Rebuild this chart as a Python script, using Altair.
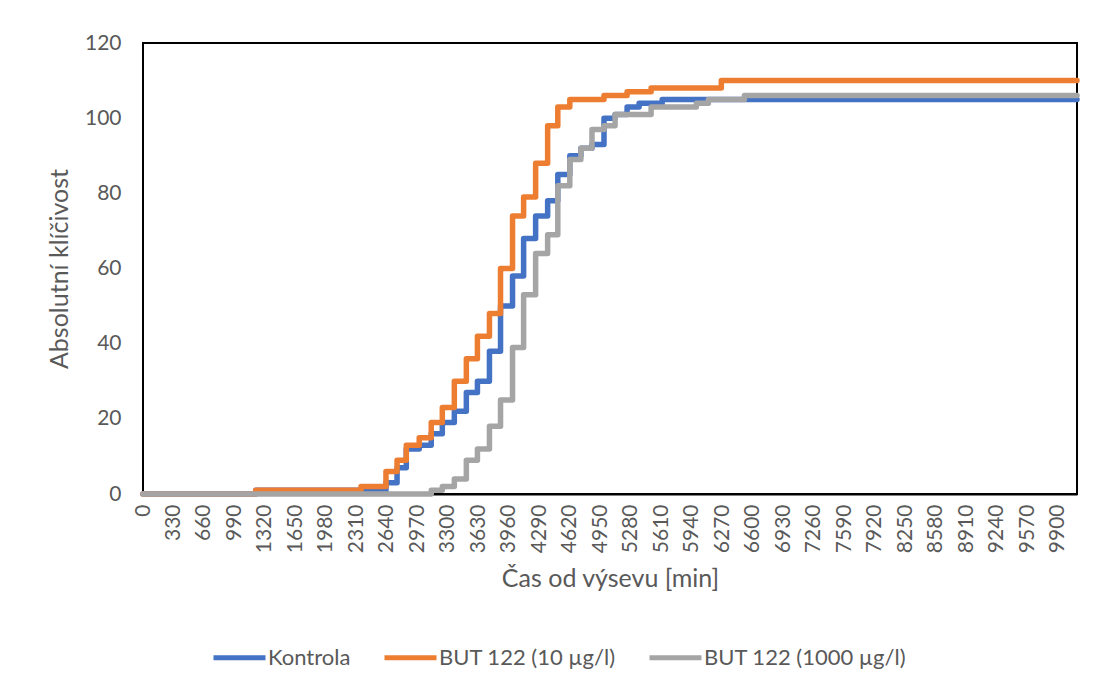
import altair as alt
import pandas as pd

# Step change points (minutes after sowing) and absolute germination counts
kontrola_t = [0, 1220, 2630, 2750, 2850, 2990, 3120, 3240, 3370, 3500, 3620, 3750, 3870,
              4000, 4120, 4250, 4380, 4490, 4620, 4740, 4860, 4990, 5110, 5240, 5370, 5620, 10110]
kontrola_v = [0, 1, 3, 7, 12, 13, 16, 19, 22, 27, 30, 38, 50,
              58, 68, 74, 78, 85, 90, 92, 93, 100, 101, 103, 104, 105, 105]

but10_t = [0, 1220, 2360, 2630, 2750, 2850, 2990, 3120, 3240, 3370, 3500, 3620, 3750,
           3870, 4000, 4120, 4250, 4380, 4490, 4620, 4990, 5240, 5500, 6260, 10110]
but10_v = [0, 1, 2, 6, 9, 13, 15, 19, 23, 30, 36, 42, 48,
           60, 74, 79, 88, 98, 103, 105, 106, 107, 108, 110, 110]

but1000_t = [0, 3120, 3240, 3370, 3500, 3620, 3750, 3870, 4000, 4120, 4250, 4380,
             4490, 4620, 4740, 4860, 4990, 5110, 5500, 5990, 6120, 6510, 10110]
but1000_v = [0, 1, 2, 4, 9, 12, 18, 25, 39, 53, 64, 69,
             82, 89, 92, 97, 98, 101, 103, 104, 105, 106, 106]

series_names = ["Kontrola", "BUT 122 (10 µg/l)", "BUT 122 (1000 µg/l)"]
series_colors = ["#4472C4", "#ED7D31", "#A5A5A5"]
x_ticks = list(range(0, 9901, 330))
y_ticks = [0, 20, 40, 60, 80, 100, 120]

rows = []
for name, ts, vs in zip(series_names, [kontrola_t, but10_t, but1000_t],
                        [kontrola_v, but10_v, but1000_v]):
    for t, v in zip(ts, vs):
        rows.append({"serie": name, "cas": t, "klicivost": v})
df = pd.DataFrame(rows)

FONT = "Lato"
GREY = "#595959"

chart = alt.Chart(df).mark_line(
    interpolate="step-after", strokeWidth=5.5, strokeJoin="round", strokeCap="round"
).encode(
    x=alt.X("cas:Q",
            scale=alt.Scale(domain=[0, 10110], nice=False, zero=False),
            axis=alt.Axis(title="Čas od výsevu [min]", values=x_ticks, format="d",
                          labelAngle=-90, ticks=False, grid=False, domain=True,
                          domainColor="#000000", domainWidth=2, labelPadding=10,
                          titlePadding=14, labelFontSize=21, titleFontSize=25,
                          labelColor=GREY, titleColor=GREY, titleFontWeight="normal",
                          labelFont=FONT, titleFont=FONT, labelOverlap=False,
                          labelFlush=False)),
    y=alt.Y("klicivost:Q",
            scale=alt.Scale(domain=[0, 120], nice=False),
            axis=alt.Axis(title="Absolutní klíčivost", values=y_ticks, format="d",
                          ticks=False, grid=False, domain=False, labelPadding=22,
                          titlePadding=12, labelFontSize=21, titleFontSize=25,
                          labelColor=GREY, titleColor=GREY, titleFontWeight="normal",
                          labelFont=FONT, titleFont=FONT)),
    color=alt.Color("serie:N",
                    scale=alt.Scale(domain=series_names, range=series_colors),
                    sort=series_names,
                    legend=alt.Legend(title=None, orient="none", direction="horizontal",
                                      legendX=68, legendY=586, symbolType="stroke",
                                      symbolSize=2704, symbolStrokeWidth=5,
                                      labelFontSize=22, labelFont=FONT, labelColor=GREY,
                                      labelLimit=400, labelOffset=0, columnPadding=23,
                                      padding=0)),
).properties(
    width=934,
    height=451,
    background="#ffffff",
    autosize=alt.AutoSizeParams(type="none"),
    padding={"left": 135, "top": 35, "right": 9, "bottom": 180},
).configure_view(
    stroke="#000000", strokeWidth=2
)

chart.save("out.html", embed_options={"renderer": "svg", "actions": False})
